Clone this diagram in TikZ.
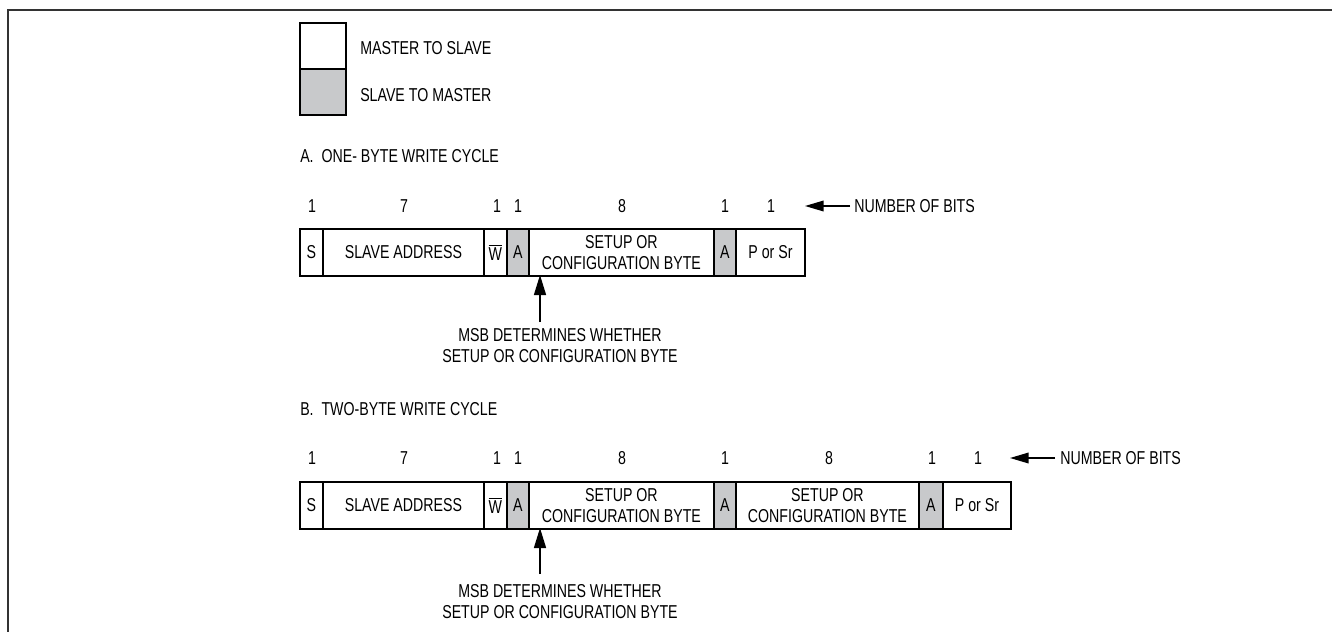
\documentclass[tikz,border=0pt]{standalone}
\usepackage{fontspec}
\setmainfont{Liberation Sans}[FakeStretch=0.76]
\usetikzlibrary{arrows.meta}
\definecolor{ackgray}{RGB}{200,201,203}
\begin{document}
\begin{tikzpicture}[x=0.75pt,y=-0.75pt,
  every node/.style={font=\fontsize{14}{15.75}\selectfont, inner sep=0pt},
  fld/.style={draw, line width=1.4pt, minimum width=#1*0.75pt, minimum height=47*0.75pt, anchor=north west, align=center},
  ack/.style={fld=#1, fill=ackgray},
  lbl/.style={anchor=west},
  num/.style={anchor=center},
  ptr/.style={line width=1.1pt, -{Triangle[length=14pt,width=8pt]}},
  up/.style={line width=1.1pt, -{Triangle[length=15pt,width=9pt]}},
  frame/.style={line width=1.6pt, draw=black!80}]
\useasboundingbox (0,0) rectangle (1332,632);
\draw[frame] (8,632) -- (8,10) -- (1332,10);

% legend
\node[fld=46, minimum height=46*0.75pt] (lw) at (299,22) {};
\node[ack=46, minimum height=46*0.75pt] (lg) at (299,68) {};
\node[lbl] (lwt) at (360,48) {MASTER TO SLAVE};
\node[lbl] (lgt) at (360,95) {SLAVE TO MASTER};

% A
\node[lbl] (ta) at (300,156) {A.\ \ ONE- BYTE WRITE CYCLE};
\node[num] (a1) at (312,206) {1};
\node[num] (a2) at (404,206) {7};
\node[num] (a3) at (497,206) {1};
\node[num] (a4) at (518,206) {1};
\node[num] (a5) at (622,206) {8};
\node[num] (a6) at (725,206) {1};
\node[num] (a7) at (771,206) {1};
\coordinate (aarr) at (850,206);
\node[lbl] (anb) at (854,206) {NUMBER OF BITS};
\draw[ptr] (aarr) -- (805,206);

\node[fld=23] (as) at (299,228) {S};
\node[fld=161] (asa) at (322,228) {SLAVE ADDRESS};
\node[fld=23] (aw) at (483,228) {$\overline{\hbox{W}}$};
\node[ack=22] (aa1) at (506,228) {A};
\node[fld=185] (asc) at (528,228) {SETUP OR\\CONFIGURATION BYTE};
\node[ack=22] (aa2) at (713,228) {A};
\node[fld=69] (ap) at (735,228) {P or Sr};

\node[align=center] (amsb) at (560,346) {MSB DETERMINES WHETHER\\SETUP OR CONFIGURATION BYTE};
\coordinate (aup) at (540,322);
\draw[up] (aup) -- (540,275);

% B
\node[lbl] (tb) at (300,409) {B.\ \ TWO-BYTE WRITE CYCLE};
\node[num] (b1) at (312,458) {1};
\node[num] (b2) at (404,458) {7};
\node[num] (b3) at (497,458) {1};
\node[num] (b4) at (518,458) {1};
\node[num] (b5) at (622,458) {8};
\node[num] (b6) at (725,458) {1};
\node[num] (b7) at (829,458) {8};
\node[num] (b8) at (932,458) {1};
\node[num] (b9) at (978,458) {1};
\coordinate (barr) at (1055,458);
\node[lbl] (bnb) at (1060,458) {NUMBER OF BITS};
\draw[ptr] (barr) -- (1010,458);

\node[fld=23] (bs) at (299,481) {S};
\node[fld=161] (bsa) at (322,481) {SLAVE ADDRESS};
\node[fld=23] (bw) at (483,481) {$\overline{\hbox{W}}$};
\node[ack=22] (ba1) at (506,481) {A};
\node[fld=185] (bsc) at (528,481) {SETUP OR\\CONFIGURATION BYTE};
\node[ack=22] (ba2) at (713,481) {A};
\node[fld=183] (bsc2) at (735,481) {SETUP OR\\CONFIGURATION BYTE};
\node[ack=24] (ba3) at (918,481) {A};
\node[fld=68] (bp) at (942,481) {P or Sr};

\node[align=center] (bmsb) at (560,602) {MSB DETERMINES WHETHER\\SETUP OR CONFIGURATION BYTE};
\coordinate (bup) at (540,574);
\draw[up] (bup) -- (540,528);
\end{tikzpicture}
\end{document}
